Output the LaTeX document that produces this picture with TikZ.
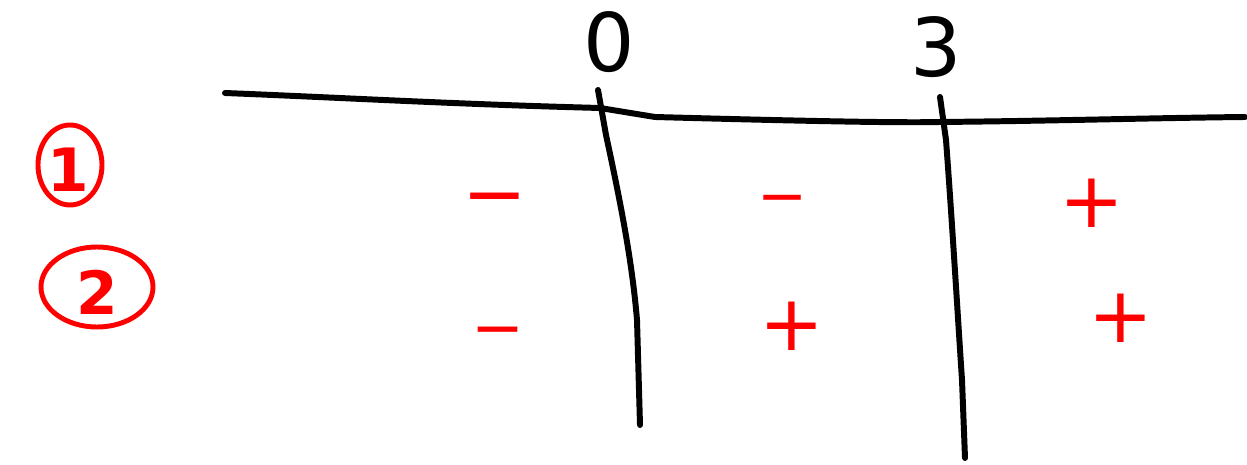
\documentclass[tikz,border=0pt]{standalone}
\usepackage{fontspec}
\setmainfont{DejaVu Sans}
\begin{document}
\begin{tikzpicture}[x=0.02cm,y=-0.02cm,
  ink/.style={line width=3.4pt,line cap=round,line join=round},
  sgn/.style={text=red,font=\fontsize{44}{48}\selectfont,inner sep=0pt},
  num/.style={font=\fontsize{46}{50}\selectfont,inner sep=0pt}]
\useasboundingbox (0,0) rectangle (1247,465);
% axis
\draw[ink] (225,93) .. controls (350,98) and (450,104) .. (600,108)
  -- (655,117) .. controls (800,121) and (900,123) .. (940,122)
  .. controls (1050,121) and (1150,118) .. (1245,117);
\draw[ink] (598,90) -- (606,135) .. controls (620,200) and (632,260) .. (637,320) -- (640,425);
\draw[ink] (940,97) -- (946,140) .. controls (952,220) and (958,320) .. (962,380) -- (965,458);
% values
\node[num] (z) at (609,42) {0};
\node[num] (t) at (936,47) {3};
% row labels
\draw[red,line width=2.8pt] (70,165) ellipse (32 and 40);
\node[text=red,font=\fontsize{34}{38}\selectfont\bfseries,inner sep=0pt] (r1) at (68,170) {1};
\draw[red,line width=2.8pt] (97,287) ellipse (56 and 40);
\node[text=red,font=\fontsize{34}{38}\selectfont\bfseries,inner sep=0pt] (r2) at (97,292) {2};
% signs
\node[sgn] (a1) at (495,207) {−};
\node[sgn,font=\fontsize{34}{38}\selectfont] (b1) at (783,206) {−};
\node[sgn] (c1) at (1092,203) {+};
\node[sgn,font=\fontsize{36}{40}\selectfont] (a2) at (498,338) {−};
\node[sgn] (b2) at (792,326) {+};
\node[sgn] (c2) at (1121,318) {+};
\end{tikzpicture}
\end{document}
